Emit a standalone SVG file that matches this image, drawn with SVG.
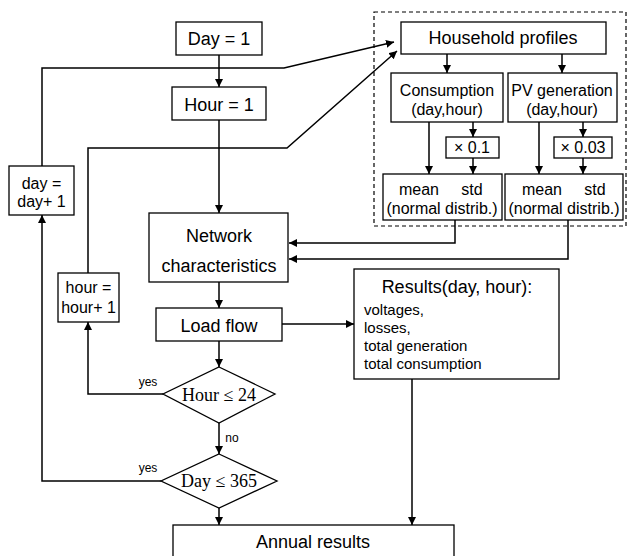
<svg xmlns="http://www.w3.org/2000/svg" width="627" height="556" viewBox="0 0 627 556">
<style>
.box{fill:#fff;stroke:#000;stroke-width:1.3}
.t{font-family:"Liberation Sans",Arial,sans-serif;fill:#000;text-anchor:middle}
.t18{font-size:18px}
.t16{font-size:16px}
.t15{font-size:15px}
.t12{font-size:12px}
.serif{font-family:"Liberation Serif","Times New Roman",serif;font-size:18px;text-anchor:middle;fill:#000}
.c{fill:none;stroke:#000;stroke-width:1.5}
.ca{fill:none;stroke:#000;stroke-width:1.5;marker-end:url(#ah)}
</style>
<defs>
<marker id="ah" markerUnits="userSpaceOnUse" markerWidth="9" markerHeight="8" refX="8" refY="4" orient="auto">
<path d="M0,0 L8,4 L0,8 z" fill="#000"/>
</marker>
</defs>
<rect width="627" height="556" fill="#fff"/>

<g id="connectors">
<path class="ca" d="M219,55 V87"/>
<path class="ca" d="M219,120 V213"/>
<path class="ca" d="M219,282 V308"/>
<path class="ca" d="M219,341 V367"/>
<path class="ca" d="M219,423 V454"/>
<path class="ca" d="M219,508 V525"/>
<path class="ca" d="M282,324 H354"/>
<path class="ca" d="M412,379 V525"/>
<path class="ca" d="M163,394 H88 V322"/>
<path class="ca" d="M161,481 H42 V215"/>
<path class="ca" d="M42,166 V68 H284 L394,42"/>
<path class="ca" d="M88,273 V148 H287 L397,51"/>
<path class="ca" d="M455,220 V243 H289"/>
<path class="ca" d="M568,220 V259 H289"/>
<path class="ca" d="M447,54 V73"/>
<path class="ca" d="M562,54 V73"/>
<path class="ca" d="M429,122 V174"/>
<path class="ca" d="M473,122 V137"/>
<path class="ca" d="M473,158 V174"/>
<path class="ca" d="M539,122 V174"/>
<path class="ca" d="M583,122 V137"/>
<path class="ca" d="M583,158 V174"/>
</g>

<g id="labels">
<text class="t t12" x="148" y="386">yes</text>
<text class="t t12" x="148" y="472">yes</text>
<text class="t t12" x="232" y="442">no</text>
</g>

<g id="profiles-group">
<rect x="374" y="12" width="252" height="214" fill="none" stroke="#000" stroke-width="1.2" stroke-dasharray="4,3"/>
</g>

<g id="day1"><rect class="box" x="176" y="22" width="86" height="33"/><text class="t t18" x="219" y="45">Day = 1</text></g>
<g id="hour1"><rect class="box" x="172" y="87" width="94" height="33"/><text class="t t18" x="219" y="111">Hour = 1</text></g>
<g id="household"><rect class="box" x="401" y="22" width="205" height="32"/><text class="t t18" x="503" y="44">Household profiles</text></g>
<g id="consumption"><rect class="box" x="391" y="73" width="112" height="49"/><text class="t t16" x="447" y="96">Consumption</text><text class="t t16" x="447" y="115">(day,hour)</text></g>
<g id="pv"><rect class="box" x="508" y="73" width="109" height="49"/><text class="t t16" x="562" y="96">PV generation</text><text class="t t16" x="562" y="115">(day,hour)</text></g>
<g id="x01"><rect class="box" x="446" y="137" width="53" height="21"/><text class="t t16" x="472" y="153">× 0.1</text></g>
<g id="x003"><rect class="box" x="554" y="137" width="58" height="21"/><text class="t t16" x="583" y="153">× 0.03</text></g>
<g id="meanstd1"><rect class="box" x="383" y="174" width="119" height="46"/><text class="t t16" x="419" y="195">mean</text><text class="t t16" x="472" y="195">std</text><text class="t t16" x="442" y="214">(normal distrib.)</text></g>
<g id="meanstd2"><rect class="box" x="505" y="174" width="118" height="46"/><text class="t t16" x="542" y="195">mean</text><text class="t t16" x="595" y="195">std</text><text class="t t16" x="564" y="214">(normal distrib.)</text></g>
<g id="daybox"><rect class="box" x="9" y="166" width="65" height="49"/><text class="t t16" x="41.5" y="189">day =</text><text class="t t16" x="41.5" y="207">day+ 1</text></g>
<g id="hourbox"><rect class="box" x="58" y="273" width="61" height="49"/><text class="t t16" x="88.5" y="293">hour =</text><text class="t t16" x="88.5" y="313">hour+ 1</text></g>
<g id="network"><rect class="box" x="149" y="213" width="139" height="69"/><text class="t t18" x="219" y="242">Network</text><text class="t t18" x="219" y="272">characteristics</text></g>
<g id="loadflow"><rect class="box" x="156" y="308" width="126" height="33"/><text class="t t18" x="219" y="332">Load flow</text></g>
<g id="results"><rect class="box" x="354" y="269" width="205" height="110"/><text class="t t18" x="457" y="293">Results(day, hour):</text>
<text class="t t15" x="364" y="315" text-anchor="start" style="text-anchor:start">voltages,</text>
<text class="t t15" x="364" y="333" style="text-anchor:start">losses,</text>
<text class="t t15" x="364" y="351" style="text-anchor:start">total generation</text>
<text class="t t15" x="364" y="369" style="text-anchor:start">total consumption</text></g>
<g id="hourcheck"><polygon class="box" points="219,367 275,394 219,423 163,394"/><text class="serif" x="219" y="401">Hour ≤ 24</text></g>
<g id="daycheck"><polygon class="box" points="219,454 277,481 219,508 161,481"/><text class="serif" x="219" y="487">Day ≤ 365</text></g>
<g id="annual"><rect class="box" x="173" y="525" width="281" height="40"/><text class="t t18" x="313" y="548">Annual results</text></g>
</svg>
